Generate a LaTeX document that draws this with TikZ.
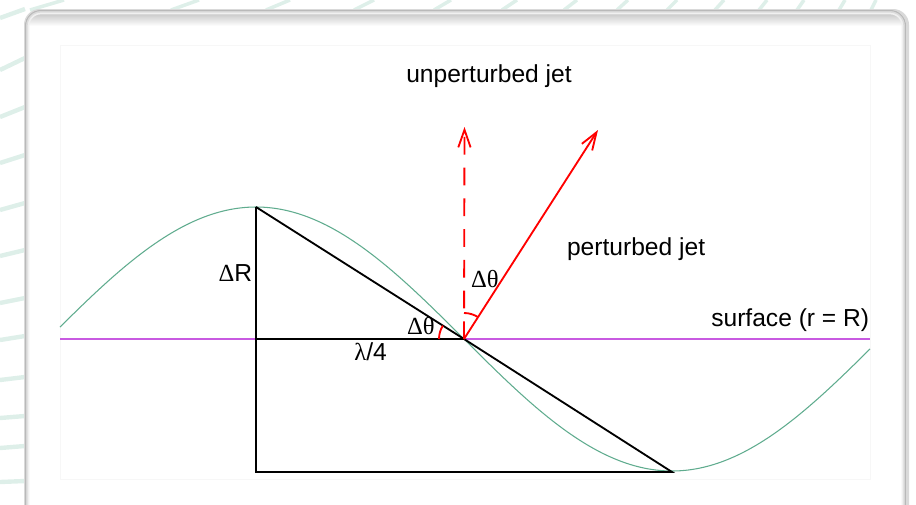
\documentclass[tikz,border=0pt]{standalone}
\usepackage{fontspec}
\setmainfont{Liberation Sans}
\newfontfamily\grk{Liberation Serif}
\usetikzlibrary{arrows.meta}
\definecolor{stripe}{RGB}{222,239,233}
\definecolor{wave}{RGB}{95,172,142}
\definecolor{surf}{RGB}{200,90,225}
\begin{document}
\begin{tikzpicture}[x=0.02cm,y=-0.02cm,
  lbl/.style={inner sep=0pt, font=\fontsize{14}{16}\selectfont},
  blackline/.style={black, line width=1.05pt},
  jet/.style={red, line width=1.05pt, -{Straight Barb[length=10pt,width=7pt,line width=1.05pt]}},
  anglearc/.style={red, line width=1.05pt}]
\useasboundingbox (0,0) rectangle (916,504);
% background stripes
\foreach \x/\d in {30/34,171/28,266/24,354/20,434/17,502/15,564/13,617/11,667/10,715/9,759/8,797/7,839/6,871/5}
  \draw[stripe, line width=2pt] (\x,10) -- (\x+\d,0);
\foreach \y/\d in {18/9,70/12,117/10,163/8,210/7,256/6,303/5,340/4,380/3,418/2,448/2,482/1}
  \draw[stripe, line width=2.5pt] (0,\y) -- (25,\y-\d);
% card with shadow
\fill[gray!30] (24,9) [rounded corners=9] rectangle (909,530);
\fill[white, rounded corners=9] (25,10) rectangle (906,530);
\begin{scope}
  \clip[rounded corners=9] (25,10) rectangle (906,530);
  \shade[top color=gray!55, bottom color=white] (25,10) rectangle (906,26);
  \draw[gray!12, line width=5pt, rounded corners=9] (25,10) rectangle (906,530);
  \draw[gray!28, line width=3pt, rounded corners=9] (25,10) rectangle (906,530);
  \draw[gray!55, line width=1.2pt, rounded corners=9] (25,10) rectangle (906,530);
\end{scope}
% plot area
\draw[gray!6, line width=0.5pt] (60,45) rectangle (870,479);
% key points
\coordinate (P) at (256,207);
\coordinate (C) at (464,339);
\coordinate (T) at (672,472);
\coordinate (F) at (256,339);
\coordinate (B) at (256,472);
\coordinate (SL) at (60,339);
\coordinate (SR) at (870,339);
\coordinate (U) at (464.5,127);
\coordinate (J) at (598,130);
% surface
\draw[surf, line width=0.8pt] (SL) -- (SR);
% wave
\draw[wave, line width=0.6pt] plot[domain=60:870, samples=220] (\x, {339-132*cos((\x-256)*0.4326923)});
% black construction
\draw[blackline] (P) -- (B) -- (T) -- (C) -- (P);
\draw[blackline] (F) -- (C);
% jets
\draw[jet, dash pattern=on 10pt off 7.5pt] (C) -- (U);
\draw[jet] (C) -- (J);
% angle arcs
\draw[anglearc] ([shift={(-25,0)}]C) arc[start angle=180, end angle=212.4, radius=25];
\draw[anglearc] ([shift={(0,-26)}]C) arc[start angle=270, end angle=302.7, radius=26];
% labels
\node[lbl, anchor=base] (tu) at (489,82) {unperturbed jet};
\node[lbl, anchor=base west] (tp) at (566.7,255) {perturbed jet};
\node[lbl, anchor=base east] (ts) at (869.5,326) {surface (r = R)};
\node[lbl, anchor=base east] (tR) at (252.5,281.7) {{\grk Δ}R};
\node[lbl, anchor=base west] (tl) at (354,360) {{\grk λ}/4};
\node[lbl, anchor=base west] (ta1) at (406.7,334) {\grk Δθ};
\node[lbl, anchor=base west] (ta2) at (470.7,287.3) {\grk Δθ};
\end{tikzpicture}
\end{document}
